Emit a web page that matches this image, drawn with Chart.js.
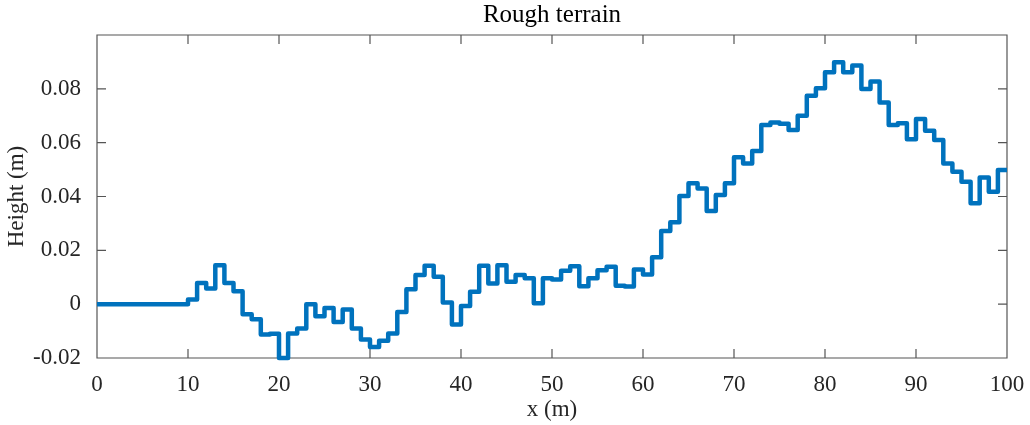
<!DOCTYPE html>
<html>
<head>
<meta charset="utf-8">
<script src="https://cdn.jsdelivr.net/npm/chart.js@4.4.1/dist/chart.umd.min.js"></script>
<style>
  html, body { margin: 0; padding: 0; background: #fff; }
  #wrap { width: 1030px; height: 425px; }
</style>
</head>
<body>
<div id="wrap"><canvas id="terrainChart" width="1030" height="425"></canvas></div>
<script>
// 계단 경계 위치 (m)
const stepEdges = [
    0, 1, 2, 3, 4, 5, 6, 7, 8, 9, 10, 11, 12, 13, 14, 15, 16, 17, 18, 19,
    20, 21, 22, 23, 24, 25, 26, 27, 28, 29, 30, 31, 32, 33, 34, 35, 36, 37, 38, 39,
    40, 41, 42, 43, 44, 45, 46, 47, 48, 49, 50, 51, 52, 53, 54, 55, 56, 57, 58, 59,
    60, 61, 62, 63, 64, 65, 66, 67, 68, 69, 70, 71, 72, 73, 74, 75, 76, 77, 78, 79,
    80, 81, 82, 83, 84, 85, 86, 87, 88, 89, 90, 91, 92, 93, 94, 95, 96, 97, 98, 99, 100
];

// 각 구간의 높이 (m)
const heights = [
    0, 0, 0, 0, 0, 0, 0, 0, 0, 0,
    0.0017, 0.0079, 0.0058, 0.0145, 0.0079, 0.0048, -0.0037, -0.0056, -0.0113, -0.0110,
    -0.0200, -0.0109, -0.0090, 0.0000, -0.0045, -0.0014, -0.0066, -0.0020, -0.0090, -0.0131,
    -0.0159, -0.0136, -0.0109, -0.0029, 0.0055, 0.0108, 0.0143, 0.0102, 0.0006, -0.0076,
    -0.0007, 0.0046, 0.0143, 0.0077, 0.0145, 0.0083, 0.0108, 0.0096, 0.0003, 0.0096,
    0.0092, 0.0124, 0.0141, 0.0067, 0.0096, 0.0126, 0.0139, 0.0068, 0.0066, 0.0129,
    0.0110, 0.0174, 0.0272, 0.0304, 0.0402, 0.0449, 0.0430, 0.0346, 0.0406, 0.0449,
    0.0546, 0.0523, 0.0569, 0.0666, 0.0675, 0.0670, 0.0647, 0.0700, 0.0774, 0.0802,
    0.0862, 0.0899, 0.0862, 0.0887, 0.0799, 0.0827, 0.0749, 0.0666, 0.0672, 0.0613,
    0.0688, 0.0644, 0.0610, 0.0523, 0.0492, 0.0455, 0.0375, 0.0471, 0.0418, 0.0498
];

const xTicks = [0, 10, 20, 30, 40, 50, 60, 70, 80, 90, 100];
const yTicks = [-0.02, 0, 0.02, 0.04, 0.06, 0.08, 0.1];
const yTickLabels = ['-0.02', '0', '0.02', '0.04', '0.06', '0.08', ''];
const chartTitle = 'Rough terrain';

const serif = '"Liberation Serif", "DejaVu Serif", serif';
const axisColor = '#262626';

// 마지막 구간을 닫기 위해 끝점 추가
const points = stepEdges.map((x, i) => ({
    x: x,
    y: i < heights.length ? heights[i] : heights[heights.length - 1]
}));

// 박스와 안쪽 눈금 그리기
const boxTicks = {
    id: 'boxTicks',
    beforeDatasetsDraw(chart) {
        const { ctx, chartArea: a, scales } = chart;
        const len = 9;
        ctx.save();
        ctx.strokeStyle = '#555';
        ctx.lineWidth = 1.2;
        ctx.beginPath();
        ctx.rect(a.left, a.top, a.right - a.left, a.bottom - a.top);
        xTicks.forEach(v => {
            const px = scales.x.getPixelForValue(v);
            ctx.moveTo(px, a.bottom); ctx.lineTo(px, a.bottom - len);
            ctx.moveTo(px, a.top); ctx.lineTo(px, a.top + len);
        });
        yTicks.forEach(v => {
            const py = scales.y.getPixelForValue(v);
            ctx.moveTo(a.left, py); ctx.lineTo(a.left + len, py);
            ctx.moveTo(a.right, py); ctx.lineTo(a.right - len, py);
        });
        ctx.stroke();

        // 제목은 플롯 영역 가운데에
        ctx.fillStyle = '#000';
        ctx.font = '25px ' + serif;
        ctx.textAlign = 'center';
        ctx.textBaseline = 'middle';
        ctx.fillText(chartTitle, (a.left + a.right) / 2, 15);
        ctx.restore();
    }
};

const ctx = document.getElementById('terrainChart').getContext('2d');
new Chart(ctx, {
    type: 'line',
    data: {
        datasets: [{
            data: points,
            stepped: 'before',
            borderColor: '#0072BD',
            borderWidth: 4.5,
            borderJoinStyle: 'round',
            borderCapStyle: 'butt',
            pointRadius: 0,
            fill: false,
            clip: false
        }]
    },
    options: {
        responsive: false,
        animation: false,
        layout: { padding: { left: 0, right: 23, top: 35, bottom: 0 } },
        plugins: {
            legend: { display: false },
            tooltip: { enabled: false },
            title: { display: false }
        },
        scales: {
            x: {
                type: 'linear',
                min: 0,
                max: 100,
                afterBuildTicks: s => { s.ticks = xTicks.map(v => ({ value: v })); },
                afterFit: s => { s.height = 67; },
                grid: { display: false },
                border: { display: false },
                ticks: {
                    color: axisColor,
                    padding: 5,
                    maxRotation: 0,
                    font: { family: serif, size: 23 },
                    callback: v => String(v)
                },
                title: {
                    display: true,
                    text: 'x (m)',
                    color: axisColor,
                    font: { family: serif, size: 23 },
                    padding: { top: 0, bottom: 1 }
                }
            },
            y: {
                min: -0.02,
                max: 0.1,
                afterBuildTicks: s => { s.ticks = yTicks.map(v => ({ value: v })); },
                afterFit: s => { s.width = 97; },
                grid: { display: false },
                border: { display: false },
                ticks: {
                    color: axisColor,
                    padding: 8,
                    font: { family: serif, size: 23 },
                    callback: (v, i) => yTickLabels[i]
                },
                title: {
                    display: true,
                    text: 'Height (m)',
                    color: axisColor,
                    font: { family: serif, size: 23 },
                    padding: { top: 3, bottom: 0 }
                }
            }
        }
    },
    plugins: [boxTicks]
});
</script>
</body>
</html>
